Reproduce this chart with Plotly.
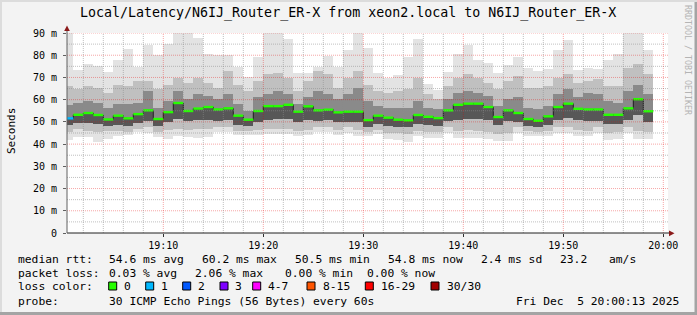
import plotly.graph_objects as go
import pandas as pd

# ---- data ----
times = pd.date_range("2025-12-05 19:00:30", periods=59, freq="60s")

median_ms = [51.6, 53.2, 54.0, 53.1, 51.1, 52.8, 51.6, 53.5, 55.2, 51.3,
             54.4, 58.5, 54.9, 56.0, 56.7, 55.6, 56.1, 52.8, 51.0, 54.9,
             57.1, 57.1, 57.7, 54.6, 57.0, 55.2, 55.5, 54.3, 54.6, 54.6,
             50.8, 52.8, 51.9, 51.0, 50.7, 53.1, 52.3, 51.7, 55.2, 57.7,
             58.2, 58.2, 56.7, 52.2, 55.2, 54.0, 51.3, 50.5, 52.5, 56.7,
             58.2, 55.9, 55.6, 55.6, 53.2, 53.2, 56.1, 60.2, 54.8]

ping_max = [92.0, 73.2, 76.2, 75.3, 72.6, 78.0, 82.8, 74.7, 84.4, 80.2,
            85.2, 91.0, 91.0, 87.9, 80.7, 80.1, 80.1, 74.7, 70.0, 79.3,
            91.0, 91.0, 87.4, 72.1, 72.1, 74.6, 79.5, 74.8, 82.5, 91.0,
            83.4, 72.1, 69.9, 71.1, 79.0, 87.4, 66.9, 64.5, 72.6, 80.7,
            84.6, 77.7, 76.6, 72.1, 75.6, 79.2, 74.4, 72.9, 73.6, 82.2,
            87.0, 73.2, 74.4, 73.9, 77.7, 80.7, 91.0, 91.0, 82.2]

ping_upper_mid = [66.0, 64.6, 66.1, 65.4, 63.2, 66.8, 66.1, 68.4, 68.4, 64.6,
                  66.8, 69.9, 67.6, 69.9, 67.6, 65.4, 72.9, 66.8, 63.9, 68.4,
                  71.4, 72.0, 69.9, 63.9, 68.4, 72.9, 71.4, 65.4, 69.9, 72.9,
                  66.8, 63.9, 63.2, 63.9, 64.6, 69.9, 62.4, 60.1, 66.1, 69.9,
                  71.4, 69.9, 67.6, 64.6, 68.4, 70.6, 65.4, 65.4, 66.1, 69.9,
                  71.4, 67.6, 68.4, 69.1, 66.1, 66.1, 74.4, 75.9, 71.4]

ping_upper_dark = [57.5, 58.6, 59.4, 58.6, 56.4, 57.9, 57.9, 58.6, 63.9, 56.4,
                   59.4, 63.9, 60.1, 62.4, 61.6, 60.1, 62.4, 57.9, 54.9, 61.0,
                   62.4, 63.9, 62.4, 57.9, 61.0, 63.9, 62.4, 60.1, 62.4, 65.4,
                   59.4, 57.2, 56.4, 56.4, 56.4, 59.4, 56.4, 55.6, 60.1, 63.2,
                   63.9, 63.2, 61.6, 57.2, 60.1, 61.0, 56.4, 55.6, 57.2, 62.4,
                   64.6, 61.0, 63.2, 62.4, 59.4, 58.6, 63.9, 66.8, 62.4]

ping_lower_dark = [48.5, 49.6, 49.5, 49.0, 48.0, 48.8, 48.0, 49.5, 50.5, 48.0,
                   49.8, 51.5, 50.2, 50.8, 51.0, 50.5, 50.8, 48.8, 48.0, 50.0,
                   51.0, 51.2, 51.5, 50.0, 51.0, 50.5, 50.8, 49.8, 50.0, 50.0,
                   47.8, 49.0, 48.0, 47.8, 47.5, 49.0, 48.5, 48.0, 50.5, 51.0,
                   51.5, 51.5, 50.8, 48.5, 50.2, 50.0, 48.0, 47.5, 48.8, 51.0,
                   51.8, 50.8, 50.5, 50.5, 49.0, 49.0, 50.8, 53.0, 50.0]

ping_lower_mid = [45.5, 46.6, 46.0, 45.3, 46.0, 46.0, 45.5, 47.0, 47.5, 45.5,
                  46.5, 47.0, 46.5, 47.0, 47.0, 47.5, 47.5, 46.0, 45.8, 46.5,
                  47.0, 47.0, 47.0, 46.0, 46.5, 47.5, 47.5, 46.5, 47.5, 46.5,
                  45.5, 46.5, 45.0, 45.0, 44.5, 46.0, 45.5, 45.5, 47.5, 46.0,
                  46.5, 46.0, 45.5, 44.5, 45.0, 47.5, 46.0, 45.5, 46.0, 47.5,
                  47.5, 46.5, 46.0, 47.5, 45.0, 45.5, 47.5, 46.0, 45.5]

ping_min = [41.7, 43.0, 43.0, 41.1, 42.1, 43.5, 43.9, 45.3, 45.0, 43.0,
            42.1, 43.5, 43.0, 42.6, 43.0, 45.3, 45.3, 43.9, 43.9, 43.9,
            44.4, 44.4, 44.4, 43.5, 43.9, 45.3, 45.3, 43.9, 45.0, 43.5,
            43.5, 44.4, 42.4, 42.0, 40.8, 43.5, 42.6, 42.6, 45.0, 42.7,
            42.7, 42.7, 42.3, 41.5, 41.5, 45.0, 43.5, 43.5, 43.5, 45.0,
            45.0, 43.5, 43.5, 45.0, 41.7, 42.3, 45.0, 42.3, 42.3]

loss = [1] + [0] * 58

loss_labels = ["0", "1", "2", "3", "4-7", "8-15", "16-29", "30/30"]
loss_colors = ["#26ff00", "#00b8ff", "#0059ff", "#7e00ff", "#ff00ff", "#ff5500", "#ff0000", "#a00000"]

y_ticks = [0, 10, 20, 30, 40, 50, 60, 70, 80, 90]
y_ticktext = ["0", "10 m", "20 m", "30 m", "40 m", "50 m", "60 m", "70 m", "80 m", "90 m"]
x_tick_labels = ["19:10", "19:20", "19:30", "19:40", "19:50", "20:00"]

# ---- time axis as minutes after 19:00 ----
t0 = pd.Timestamp("2025-12-05 19:00")
xmin = [(t - t0).total_seconds() / 60 for t in times]
x_tickvals = [(pd.Timestamp("2025-12-05 " + s) - t0).total_seconds() / 60 for s in x_tick_labels]

# ---- geometry helpers (pixel -> paper) ----
W, H = 697, 315
L, R, T, B = 67, 668, 33, 233
def px(x):
    return (x - L) / (R - L)
def py(y):
    return (B - y) / (B - T)
x_lo = 10 - (163.3 - L) / 10
x_hi = 10 + (R - 163.3) / 10

MONO = "DejaVu Sans Mono"
fig = go.Figure()

def band(lo, hi, color):
    fig.add_trace(go.Bar(x=xmin, y=[h - l for l, h in zip(lo, hi)], base=lo,
                         width=1.0, marker=dict(color=color, line=dict(width=0)),
                         hoverinfo="skip", showlegend=False))

band(ping_min, ping_max, "#e3e3e3")
band(ping_lower_mid, ping_upper_mid, "#c0c0c0")
band(ping_lower_dark, ping_upper_dark, "#8a8a8a")
band(ping_lower_dark, median_ms, "#575757")

# black step line through the medians
fig.add_trace(go.Scatter(x=xmin, y=median_ms, mode="lines",
                         line=dict(color="#202020", width=1, shape="hvh"),
                         hoverinfo="skip", showlegend=False))

def loss_level(l):
    if l < 4:
        return l
    if l < 8:
        return 4
    if l < 16:
        return 5
    if l < 30:
        return 6
    return 7

# coloured median segments, one trace per loss level
for lvl, col in enumerate(loss_colors):
    xs, ys = [], []
    for xc, m, l in zip(xmin, median_ms, loss):
        if loss_level(l) == lvl:
            xs += [xc - 0.5, xc + 0.5, None]
            ys += [m, m, None]
    if xs:
        fig.add_trace(go.Scatter(x=xs, y=ys, mode="lines",
                                 line=dict(color=col, width=2.4),
                                 hoverinfo="skip", showlegend=False))

shapes = []
MAJ = "rgba(230,0,0,0.35)"
MIN = "rgba(140,140,140,0.55)"
for v in range(5, 95, 5):
    shapes.append(dict(type="line", xref="paper", yref="y", x0=0, x1=1, y0=v, y1=v,
                       line=dict(color=MAJ if v % 10 == 0 else MIN, width=1, dash="1px,1px"),
                       layer="above"))
for m in range(2, 61, 2):
    shapes.append(dict(type="line", xref="x", yref="paper", x0=m, x1=m, y0=0, y1=1,
                       line=dict(color=MAJ if m % 10 == 0 else MIN, width=1, dash="1px,1px"),
                       layer="above"))
# axes with arrows
shapes.append(dict(type="line", xref="paper", yref="paper", x0=0, x1=px(670), y0=0, y1=0,
                   line=dict(color="#202020", width=1), layer="above"))
shapes.append(dict(type="line", xref="paper", yref="paper", x0=0, x1=0, y0=0, y1=py(29),
                   line=dict(color="#606060", width=1), layer="above"))
shapes.append(dict(type="path", xref="paper", yref="paper",
                   path=f"M {px(669)} {py(230.5)} L {px(674.5)} {py(233.3)} L {px(669)} {py(236.2)} Z",
                   fillcolor="#8b1a1a", line=dict(width=0), layer="above"))
shapes.append(dict(type="path", xref="paper", yref="paper",
                   path=f"M {px(64.2)} {py(31)} L {px(67)} {py(25.5)} L {px(69.8)} {py(31)} Z",
                   fillcolor="#8b1a1a", line=dict(width=0), layer="above"))
# frame
shapes.append(dict(type="rect", xref="paper", yref="paper", x0=px(0), x1=px(697), y0=py(312), y1=py(315),
                   fillcolor="#a4a4a4", line=dict(width=0), layer="below"))
shapes.append(dict(type="rect", xref="paper", yref="paper", x0=px(694.5), x1=px(697), y0=py(0), y1=py(315),
                   fillcolor="#a4a4a4", line=dict(width=0), layer="below"))
shapes.append(dict(type="rect", xref="paper", yref="paper", x0=px(0), x1=px(697), y0=py(0), y1=py(2),
                   fillcolor="#dcdcdc", line=dict(width=0), layer="below"))
shapes.append(dict(type="rect", xref="paper", yref="paper", x0=px(0), x1=px(2), y0=py(0), y1=py(312),
                   fillcolor="#dcdcdc", line=dict(width=0), layer="below"))

# loss color boxes
box_x = [108.7, 145.7, 182.7, 220.0, 252.7, 307.0, 365.3, 431.0]
annotations = []
for bx, lab, col in zip(box_x, loss_labels, loss_colors):
    shapes.append(dict(type="rect", xref="paper", yref="paper", x0=px(bx), x1=px(bx + 8),
                       y0=py(282), y1=py(290), fillcolor=col, line=dict(color="#000000", width=1),
                       layer="above"))
    annotations.append(dict(text=lab, x=px(bx + 13.5), y=py(286), xref="paper", yref="paper",
                            xanchor="left", yanchor="middle", showarrow=False,
                            font=dict(family=MONO, size=11.3, color="#000")))

def txt(s, x, y, size=11.3, anchor="left", color="#000", angle=0):
    annotations.append(dict(text=s, x=px(x), y=py(y), xref="paper", yref="paper",
                            xanchor=anchor, yanchor="middle", showarrow=False, textangle=angle,
                            font=dict(family=MONO, size=size, color=color)))

txt("Local/Latency/N6IJ_Router_ER-X from xeon2.local to N6IJ_Router_ER-X", 348, 13.3, size=13.3, anchor="center")
txt("Seconds", 11, 131, size=11, anchor="center", angle=-90)
txt("RRDTOOL / TOBI OETIKER", 688, 60, size=8.3, anchor="center", color="#b4b4b4", angle=90)

row1 = [("median rtt:", 16), ("54.6 ms avg", 107.3), ("60.2 ms max", 200), ("50.5 ms min", 293.3),
        ("54.8 ms now", 386), ("2.4 ms sd", 479.3), ("23.2", 558.3), ("am/s", 607.3)]
row2 = [("packet loss:", 16), ("0.03 % avg", 107.3), ("2.06 % max", 192.7), ("0.00 % min", 282.7),
        ("0.00 % now", 365)]
for s, x in row1:
    txt(s, x, 259.5)
for s, x in row2:
    txt(s, x, 273.5)
txt("loss color:", 16, 286)
txt("probe:", 16, 301)
txt("30 ICMP Echo Pings (56 Bytes) every 60s", 107.3, 301)
txt("Fri Dec  5 20:00:13 2025", 681, 301, anchor="right")

fig.update_layout(
    width=W, height=H,
    margin=dict(l=L, r=W - R, t=T, b=H - B, pad=0),
    paper_bgcolor="#f3f3f3", plot_bgcolor="#ffffff",
    barmode="overlay", bargap=0,
    shapes=shapes, annotations=annotations,
    showlegend=False,
    xaxis=dict(range=[x_lo, x_hi], tickvals=x_tickvals, ticktext=x_tick_labels,
               showgrid=False, zeroline=False,
               ticks="outside", ticklen=3, tickcolor="#303030", showline=False,
               tickfont=dict(family=MONO, size=10, color="#000"), fixedrange=True),
    yaxis=dict(range=[0, 90], tickvals=y_ticks, ticktext=y_ticktext, showgrid=False,
               zeroline=False, ticks="outside", ticklen=3, tickcolor="#606060", showline=False,
               ticklabelstandoff=4,
               tickfont=dict(family=MONO, size=10, color="#000"), fixedrange=True),
)

fig.write_html("out.html")
